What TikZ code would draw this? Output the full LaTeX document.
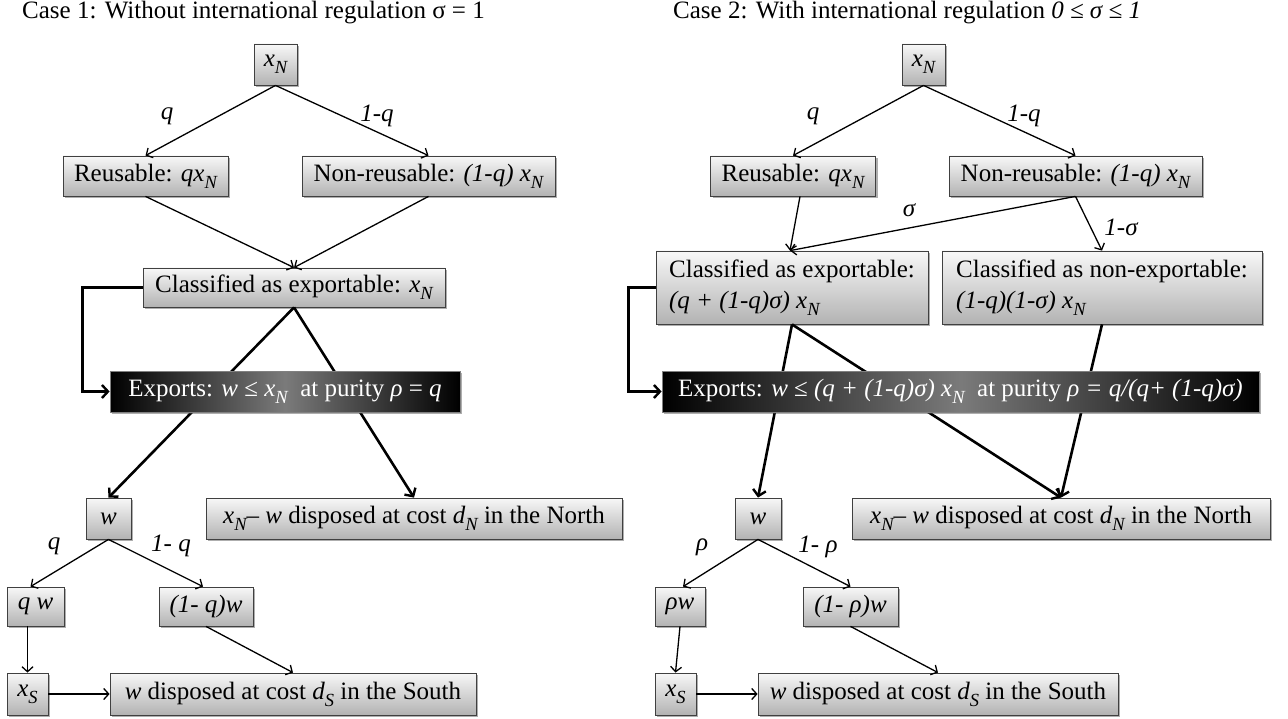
\documentclass[tikz,border=0pt]{standalone}
\usepackage{fontspec}
\setmainfont{Liberation Serif}
\usetikzlibrary{shadows,arrows.meta,calc}
\newcommand\sbs[1]{\raisebox{-0.28em}{\fontsize{18.5}{18.5}\selectfont\itshape #1}}
\begin{document}
\begin{tikzpicture}[x=1pt,y=-1pt,
  font=\fontsize{25}{31}\selectfont,
  gbox/.style={draw=black!75, line width=0.8pt, top color=black!3, bottom color=black!30,
    drop shadow={shadow xshift=2pt,shadow yshift=-2pt,fill=black!70,opacity=0.45},
    inner sep=0pt, align=center},
  bbox/.style={draw=black!50, line width=0.8pt, left color=black, right color=black, middle color=black!52,
    text=white, inner sep=0pt,
    drop shadow={shadow xshift=2pt,shadow yshift=-2pt,fill=black!70,opacity=0.45}},
  arr/.style={line width=1.3pt, -{Straight Barb[length=5pt,width=11pt,line width=1.3pt]}},
  thk/.style={line width=2.6pt, -{Straight Barb[length=6pt,width=13pt,line width=2.4pt]}},
  lbl/.style={font=\fontsize{25}{29}\selectfont\itshape, inner sep=0pt},
  ttl/.style={anchor=base west, inner sep=0pt, font=\fontsize{25}{29}\selectfont}
]
\useasboundingbox (0,0) rectangle (1288,719);
\fill[white] (0,0) rectangle (1288,719);

% titles
\node[ttl] (t1) at (22,19) {Case 1: Without international regulation σ = 1};
\node[ttl] (t2) at (673,19) {Case 2: With international regulation \textit{0 ≤ σ ≤ 1}};

% ---------- Case 1 ----------
\node[gbox, minimum width=43pt, minimum height=41pt] (LxN) at (275.5,64.5) {\textit{x}\sbs{N}};
\node[gbox, minimum width=165pt, minimum height=40pt] (Lreu) at (145.5,176) {Reusable: \textit{qx}\sbs{N}};
\node[gbox, minimum width=253pt, minimum height=40pt] (Lnon) at (428.5,176) {Non-reusable: \textit{(1-q) x}\sbs{N}};
\node[gbox, minimum width=302pt, minimum height=39pt] (Lcls) at (294,287.5) {Classified as exportable: \textit{x}\sbs{N}};
\node[gbox, minimum width=45pt, minimum height=41pt] (Lw) at (108.5,518.5) {\textit{w}};
\node[gbox, minimum width=416pt, minimum height=41pt] (LN) at (414,518.5) {\textit{x}\sbs{N}– \textit{w} disposed at cost \textit{d}\sbs{N} in the North};
\node[gbox, minimum width=57pt, minimum height=39pt] (Lqw) at (35.5,606.5) {\textit{q w}};
\node[gbox, minimum width=94pt, minimum height=39pt] (L1qw) at (206,606.5) {\textit{(1- q)w}};
\node[gbox, minimum width=41pt, minimum height=42pt] (LxS) at (27.5,694) {\textit{x}\sbs{S}};
\node[gbox, minimum width=366pt, minimum height=42pt] (LS) at (293,694) {\textit{w} disposed at cost \textit{d}\sbs{S} in the South};

\draw[arr] (LxN.south) -- (Lreu.north);
\draw[arr] (LxN.south) -- (Lnon.north);
\draw[arr] (Lreu.south) -- (Lcls.north);
\draw[arr] (Lnon.south) -- (Lcls.north);
\draw[thk] (Lcls.south) -- (Lw.north);
\draw[thk] (Lcls.south) -- (LN.north);
\node[bbox, minimum width=350pt, minimum height=41pt] (Lexp) at (285,391.5) {Exports: \textit{w} ≤ \textit{x}\sbs{N}\ \ at purity \textit{ρ} = \textit{q}};
\draw[thk] (Lcls.west) -- ++(-60,0) |- (Lexp.west);
\draw[arr] (Lw.south) -- ([xshift=-5pt]Lqw.north);
\draw[arr] (Lw.south) -- ([xshift=-3pt]L1qw.north);
\draw[arr] (LxS.north |- Lqw.south) -- (LxS.north);
\draw[arr] (L1qw.south) -- (LS.north);
\draw[arr] (LxS.east) -- (LS.west);

\node[lbl] (lq1) at (167,116) {q};
\node[lbl] (lq2) at (377,116) {1-q};
\node[lbl] (lq3) at (54,546) {q};
\node[lbl] (lq4) at (171,546) {1- q};

% ---------- Case 2 ----------
\node[gbox, minimum width=43pt, minimum height=41pt] (RxN) at (923.5,64.5) {\textit{x}\sbs{N}};
\node[gbox, minimum width=165pt, minimum height=40pt] (Rreu) at (793,176) {Reusable: \textit{qx}\sbs{N}};
\node[gbox, minimum width=253pt, minimum height=40pt] (Rnon) at (1075.5,176) {Non-reusable: \textit{(1-q) x}\sbs{N}};
\node[gbox, minimum width=272pt, minimum height=73pt, align=left] (Rcls) at (792,287.5)
  {Classified as exportable:\\ \textit{(q + (1-q)σ) x}\sbs{N}};
\node[gbox, minimum width=320pt, minimum height=73pt, align=left] (Rnex) at (1102,287.5)
  {Classified as non-exportable:\\ \textit{(1-q)(1-σ) x}\sbs{N}};
\node[gbox, minimum width=46pt, minimum height=41pt] (Rw) at (758,518.5) {\textit{w}};
\node[gbox, minimum width=418pt, minimum height=41pt] (RN) at (1061,518.5) {\textit{x}\sbs{N}– \textit{w} disposed at cost \textit{d}\sbs{N} in the North};
\node[gbox, minimum width=50pt, minimum height=39pt] (Rrw) at (680,606.5) {\textit{ρw}};
\node[gbox, minimum width=95pt, minimum height=39pt] (R1rw) at (850.5,606.5) {\textit{(1- ρ)w}};
\node[gbox, minimum width=41pt, minimum height=42pt] (RxS) at (675.5,694) {\textit{x}\sbs{S}};
\node[gbox, minimum width=360pt, minimum height=42pt] (RS) at (938,694) {\textit{w} disposed at cost \textit{d}\sbs{S} in the South};

\draw[arr] (RxN.south) -- (Rreu.north);
\draw[arr] (RxN.south) -- (Rnon.north);
\draw[arr] ([xshift=7pt]Rreu.south) -- ([xshift=-2pt]Rcls.north);
\draw[arr] (Rnon.south) -- ([xshift=-2pt]Rcls.north);
\draw[arr] (Rnon.south) -- (Rnex.north);
\draw[thk] (Rcls.south) -- (Rw.north);
\draw[thk] (Rcls.south) -- (RN.north);
\draw[thk] (Rnex.south) -- (RN.north);
\node[bbox, minimum width=597pt, minimum height=41pt] (Rexp) at (960.5,391.5)
  {Exports: \textit{w} ≤ \textit{(q + (1-q)σ) x}\sbs{N}\ \ at purity \textit{ρ = q/(q+ (1-q)σ)}};
\draw[thk] (Rcls.west) -- ++(-27,0) |- (Rexp.west);
\draw[arr] (Rw.south) -- ([xshift=3pt]Rrw.north);
\draw[arr] (Rw.south) -- (R1rw.north);
\draw[arr] (Rrw.south) -- (RxS.north);
\draw[arr] (R1rw.south) -- (RS.north);
\draw[arr] (RxS.east) -- (RS.west);

\node[lbl] (rq1) at (813,116) {q};
\node[lbl] (rq2) at (1024,116) {1-q};
\node[lbl] (rs1) at (909,210) {σ};
\node[lbl] (rs2) at (1121,227) {1-σ};
\node[lbl] (rr1) at (702,547) {ρ};
\node[lbl] (rr2) at (818,547) {1- ρ};
\end{tikzpicture}
\end{document}
